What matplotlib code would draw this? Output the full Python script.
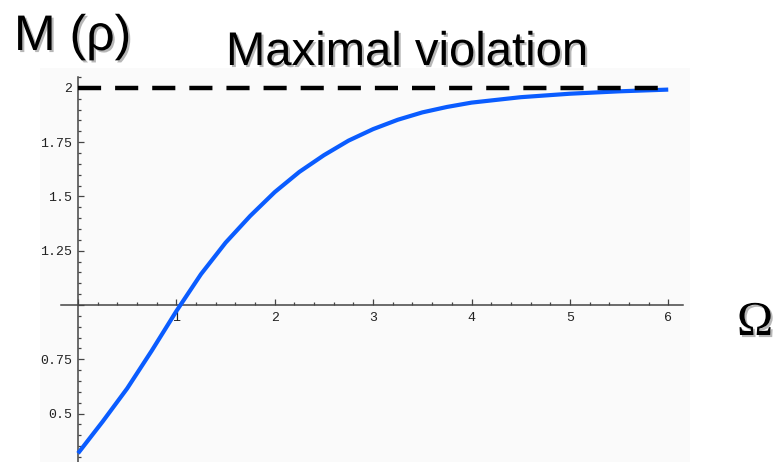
import matplotlib
matplotlib.use("Agg")
import matplotlib.pyplot as plt
from matplotlib.ticker import MultipleLocator, FuncFormatter
from matplotlib.patches import Rectangle
import matplotlib.patheffects as pe

# ---- data ----
omega = [0, 0.25, 0.5, 0.75, 1.0, 1.25, 1.5, 1.75, 2.0, 2.25, 2.5, 2.75,
         3.0, 3.25, 3.5, 3.75, 4.0, 4.5, 5.0, 5.5, 6.0]
m_rho = [0.317, 0.463, 0.616, 0.79, 0.972, 1.142, 1.287, 1.41, 1.52, 1.613,
         1.69, 1.757, 1.81, 1.853, 1.887, 1.912, 1.932, 1.957, 1.973, 1.984, 1.992]
bound_x = [0, 5.9]
bound_y = [2, 2]
title_text = "Maximal violation"
ylabel_text = "M (\u03c1)"
xlabel_text = "\u03a9"

W, H = 780, 462
fig = plt.figure(figsize=(W / 100, H / 100), dpi=100)
fig.patch.set_facecolor("white")

# faint background panel
fig.patches.append(Rectangle((40 / W, 0), (690 - 40) / W, (H - 68) / H,
                             transform=fig.transFigure, facecolor="#fafafa",
                             edgecolor="none", zorder=-5))

x0_px, x_right_px = 61.3, 683
ax = fig.add_axes([x0_px / W, 0, (x_right_px - x0_px) / W, (H - 77) / H])
ax.set_zorder(2)
ax.set_facecolor("none")
ax.set_xlim(-0.17, 6.15)
ax.set_ylim(0.277, 2.05)

for s in ["top", "right"]:
    ax.spines[s].set_visible(False)
ax.spines["left"].set_position(("data", 0))
ax.spines["bottom"].set_position(("data", 1))
for s in ["left", "bottom"]:
    ax.spines[s].set_color("#444444")
    ax.spines[s].set_linewidth(1.1)

ax.xaxis.set_major_locator(MultipleLocator(1))
ax.xaxis.set_minor_locator(MultipleLocator(0.2))
ax.yaxis.set_major_locator(MultipleLocator(0.25))
ax.yaxis.set_minor_locator(MultipleLocator(0.05))

def xfmt(v, pos):
    return "" if abs(v) < 1e-9 else "%g" % v

def yfmt(v, pos):
    return "" if abs(v - 1) < 1e-9 else "%g" % v

ax.xaxis.set_major_formatter(FuncFormatter(xfmt))
ax.yaxis.set_major_formatter(FuncFormatter(yfmt))

ax.tick_params(which="both", direction="in", color="#444444", width=0.9,
               labelsize=9.5, labelcolor="#222222")
ax.tick_params(which="major", length=4)
ax.tick_params(which="minor", length=2.5)
ax.tick_params(axis="x", pad=5)
ax.tick_params(axis="y", pad=4)
for lab in ax.get_xticklabels() + ax.get_yticklabels():
    lab.set_family("Liberation Mono")

ax.plot(omega, m_rho, color="#0a5cff", lw=3.0, solid_capstyle="butt",
        zorder=3, clip_on=False)
ax.plot(bound_x, bound_y, color="black", lw=3.2, dashes=(5.2, 3.15),
        zorder=4, clip_on=False)

shadow = [pe.withSimplePatchShadow(offset=(1.5, -1.5), shadow_rgbFace="#888888",
                                   alpha=0.6)]

def ftext(xpx, ypx, s, **kw):
    t = fig.text(xpx / W, 1 - ypx / H, s, ha="left", va="baseline", **kw)
    t.set_path_effects(shadow)
    return t

ftext(14, 50, ylabel_text, fontsize=36, family="Liberation Sans", color="black")
ftext(226, 65, title_text, fontsize=34, family="Liberation Sans", color="black")
ftext(737, 335, xlabel_text, fontsize=35, family=["Liberation Serif", "DejaVu Serif"],
      color="black")

fig.savefig("out.png", dpi=100)
